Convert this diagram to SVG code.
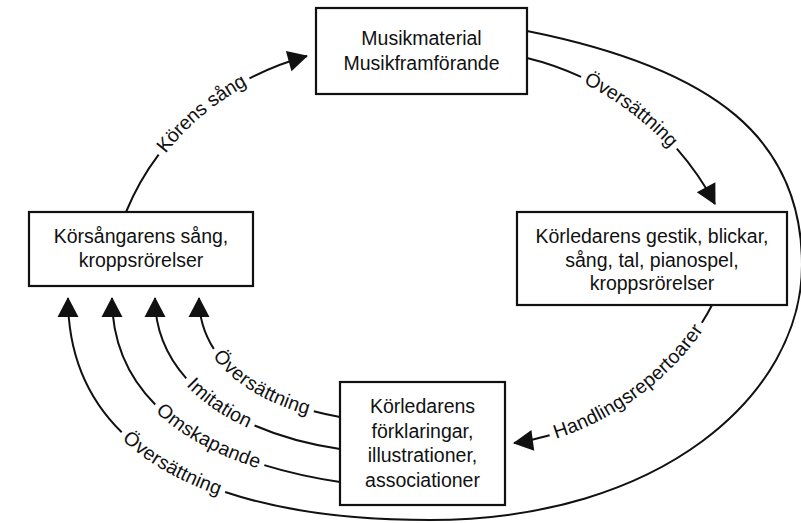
<svg xmlns="http://www.w3.org/2000/svg" width="801" height="523" viewBox="0 0 801 523">
<style>
.box{fill:#fff;stroke:#111;stroke-width:2.2}
.nt{font-family:"Liberation Sans",Arial,Helvetica,sans-serif;font-size:19.5px;fill:#111;text-anchor:middle}
.conn{fill:none;stroke:#111;stroke-width:2}
.lbl{font-family:"Liberation Sans",Arial,Helvetica,sans-serif;font-size:19.5px;fill:#111;text-anchor:middle}
</style>
<defs>
<marker id="ah" viewBox="-20 -11 22 22" refX="0" refY="0" markerWidth="22" markerHeight="22" markerUnits="userSpaceOnUse" orient="auto-start-reverse">
<path d="M1,0 L-19,-10.5 L-19,10.5 Z" fill="#111"/>
</marker>
<path id="tp1" d="M126,212 C156.7,136.7 221.6,79.5 307,56"/>
<path id="tp2" d="M527,58 C607.6,77.5 676.1,130.8 715,204"/>
<path id="tp3" d="M514,443 C603,430.8 680.7,367.6 712,305"/>
<path id="tp4" d="M199,298 C199,358 251.5,401 340,417"/>
<path id="tp5" d="M155,298 C155,378 231,432.7 340,449"/>
<path id="tp6" d="M112,298 C112,418 231,465.7 340,482"/>
<path id="tp7" d="M68,298 C68,450 210,520 430,520"/>
</defs>
<g id="connectors">
<path class="conn" d="M126,212 C156.7,136.7 221.6,79.5 307,56" stroke-dasharray="66.25 119.5 1000" marker-end="url(#ah)"/>
<path class="conn" d="M527,58 C607.6,77.5 676.1,130.8 715,204" stroke-dasharray="57.35 120.5 1000" marker-end="url(#ah)"/>
<path class="conn" d="M514,443 C603,430.8 680.7,367.6 712,305" stroke-dasharray="36.5 193 1000" marker-start="url(#ah)"/>
<path class="conn" d="M199,298 C199,358 251.5,401 340,417" stroke-dasharray="53.75 120.5 1000" marker-start="url(#ah)"/>
<path class="conn" d="M155,298 C155,378 231,432.7 340,449" stroke-dasharray="88.15 83.7 1000" marker-start="url(#ah)"/>
<path class="conn" d="M112,298 C112,418 231,465.7 340,482" stroke-dasharray="118 126 1000" marker-start="url(#ah)"/>
<path class="conn" d="M527,31 C717,69 802,140 802,265 C802,395 660,520 430,520"/>
<path class="conn" d="M68,298 C68,450 210,520 430,520" stroke-dasharray="148.75 120.5 1000" marker-start="url(#ah)"/>
</g>
<g id="labels">
<text class="lbl" dy="5"><textPath href="#tp1" startOffset="126">Körens sång</textPath></text>
<text class="lbl" dy="5"><textPath href="#tp2" startOffset="117.6">Översättning</textPath></text>
<text class="lbl" dy="5"><textPath href="#tp3" startOffset="133">Handlingsrepertoarer</textPath></text>
<text class="lbl" dy="5"><textPath href="#tp4" startOffset="114">Översättning</textPath></text>
<text class="lbl" dy="5"><textPath href="#tp5" startOffset="130">Imitation</textPath></text>
<text class="lbl" dy="5"><textPath href="#tp6" startOffset="181">Omskapande</textPath></text>
<text class="lbl" dy="5"><textPath href="#tp7" startOffset="209">Översättning</textPath></text>
</g>
<g id="node-musik">
<rect class="box" x="316" y="8" width="211" height="86"/>
<text class="nt" x="421.5" y="45">Musikmaterial</text>
<text class="nt" x="421.5" y="70">Musikframförande</text>
</g>
<g id="node-korsangare">
<rect class="box" x="29" y="212" width="224" height="74"/>
<text class="nt" x="141" y="243">Körsångarens sång,</text>
<text class="nt" x="141" y="267">kroppsrörelser</text>
</g>
<g id="node-korledare-gestik">
<rect class="box" x="517" y="212" width="270" height="93"/>
<text class="nt" x="652" y="243">Körledarens gestik, blickar,</text>
<text class="nt" x="652" y="266.5">sång, tal, pianospel,</text>
<text class="nt" x="652" y="290">kroppsrörelser</text>
</g>
<g id="node-korledare-forklaringar">
<rect class="box" x="340" y="382" width="165" height="123"/>
<text class="nt" x="422.5" y="413">Körledarens</text>
<text class="nt" x="422.5" y="437.5">förklaringar,</text>
<text class="nt" x="422.5" y="462">illustrationer,</text>
<text class="nt" x="422.5" y="486.5">associationer</text>
</g>
</svg>
